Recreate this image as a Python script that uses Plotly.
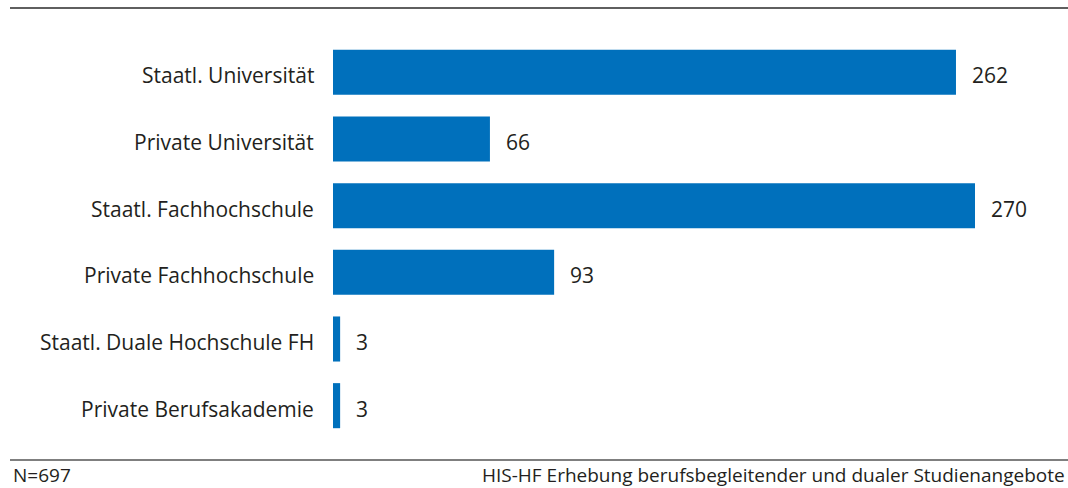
import plotly.graph_objects as go

categories = [
    "Staatl. Universität",
    "Private Universität",
    "Staatl. Fachhochschule",
    "Private Fachhochschule",
    "Staatl. Duale Hochschule FH",
    "Private Berufsakademie",
]
values = [262, 66, 270, 93, 3, 3]
footer_left = "N=697"
footer_right = "HIS-HF Erhebung berufsbegleitender und dualer Studienangebote"

W, H = 1068, 488
ML, MR, MT, MB = 333, 48, 39, 49
PW = W - ML - MR
PH = H - MT - MB
px_per_unit = (975 - 333) / 270.0
xmax = PW / px_per_unit

FONT = "Open Sans"
TXT = "#231f20"
BAR = "#0070bc"

def px_to_paper_x(px):
    return (px - ML) / PW

def py_to_paper_y(py):
    return (H - MB - py) / PH

fig = go.Figure()
fig.add_trace(go.Bar(
    x=values, y=categories, orientation="h",
    marker=dict(color=BAR, line=dict(width=0)),
    hoverinfo="x+y",
))

for c, v in zip(categories, values):
    fig.add_annotation(x=v, y=c, text=str(v), showarrow=False,
                       xanchor="left", yanchor="middle", xshift=14, yshift=-3,
                       font=dict(family=FONT, size=21, color=TXT))
    fig.add_annotation(x=0, y=c, text=c, showarrow=False,
                       xanchor="right", yanchor="middle", xshift=-17, yshift=-3,
                       font=dict(family=FONT, size=21, color=TXT))

fig.add_shape(type="line", xref="paper", yref="paper",
              x0=px_to_paper_x(10), x1=px_to_paper_x(1068),
              y0=py_to_paper_y(8), y1=py_to_paper_y(8),
              line=dict(color="#2a2a2a", width=1.3))
fig.add_shape(type="line", xref="paper", yref="paper",
              x0=px_to_paper_x(10), x1=px_to_paper_x(1068),
              y0=py_to_paper_y(460), y1=py_to_paper_y(460),
              line=dict(color="#555555", width=1.5))

fig.add_annotation(xref="paper", yref="paper", x=px_to_paper_x(11), y=py_to_paper_y(475),
                   text=footer_left, showarrow=False, xanchor="left", yanchor="middle",
                   font=dict(family=FONT, size=19, color=TXT))
fig.add_annotation(xref="paper", yref="paper", x=px_to_paper_x(1067), y=py_to_paper_y(475),
                   text=footer_right, showarrow=False, xanchor="right", yanchor="middle",
                   font=dict(family=FONT, size=19, color=TXT))

fig.update_layout(
    width=W, height=H,
    margin=dict(l=ML, r=MR, t=MT, b=MB, autoexpand=False),
    paper_bgcolor="white", plot_bgcolor="white",
    bargap=0.324,
    showlegend=False,
    font=dict(family=FONT, color=TXT),
    xaxis=dict(range=[0, xmax], visible=False, fixedrange=True),
    yaxis=dict(autorange="reversed", showgrid=False, showline=False, zeroline=False,
               showticklabels=False, ticks="", fixedrange=True),
)

fig.write_html("out.html", config={"displayModeBar": False},
               post_script="document.body.style.margin='0';document.body.style.overflow='hidden';")
